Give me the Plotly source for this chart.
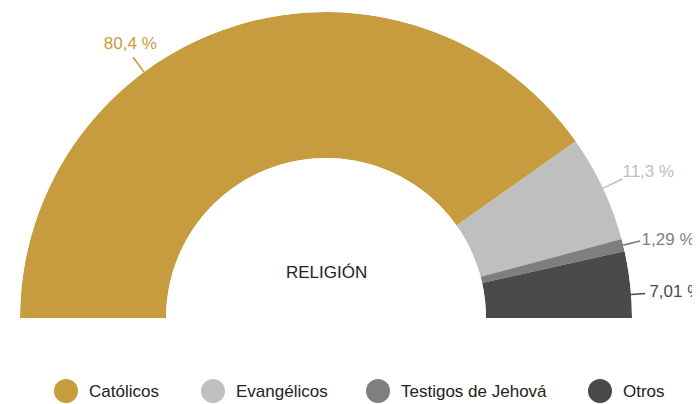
import numpy as np
import plotly.graph_objects as go

# datos
categorias = ["Católicos", "Evangélicos", "Testigos de Jehová", "Otros"]
porcentajes = [80.4, 11.3, 1.29, 7.01]
etiquetas = ["80,4 %", "11,3 %", "1,29 %", "7,01 %"]
titulo = "RELIGIÓN"

colores = ["#C79C3F", "#BEC0BF", "#7F7F7F", "#4A4A4C"]
fuente = "Liberation Sans, Arial, Helvetica, sans-serif"

# el body de la pagina tiene 8px de margen -> figura algo mas chica
W, H = 692, 396
cx, cy, R = 318, 310, 306      # centro y radio del semicirculo (px de la figura)
hueco = 160 / R

# semicirculo: 180 grados repartidos segun el porcentaje, de izquierda a derecha
vals = np.array(porcentajes)
frac = vals / vals.sum()
antes = np.concatenate([[0], np.cumsum(frac)[:-1]])
anchos = 180 * frac
centros = 180 - 180 * (antes + frac / 2)

# angulo de cada etiqueta (como en el original, la primera y la ultima algo corridas)
ang_etiq = centros.copy()
ang_etiq[0] = 126.5
ang_etiq[3] = 4.4
r_fin = [1.06, 1.07, 1.057, 1.046]
r_txt = [1.075, 1.07, 1.062, 1.06]
pos_texto = ["top center", "middle right", "middle right", "middle right"]
dy_txt = [0, 0.02, 0, 0]

fig = go.Figure()

for i in range(len(categorias)):
    fig.add_trace(go.Barpolar(r=[1], theta=[centros[i]], width=[anchos[i]], base=0,
                              marker=dict(color=colores[i], line=dict(width=0)),
                              name=categorias[i], showlegend=False, hoverinfo="name"))

# lineas y textos de las etiquetas en ejes cartesianos superpuestos (1 unidad = radio)
for i in range(len(categorias)):
    a = np.radians(ang_etiq[i])
    fig.add_trace(go.Scatter(x=[np.cos(a), r_fin[i] * np.cos(a)],
                             y=[np.sin(a), r_fin[i] * np.sin(a)],
                             mode="lines", line=dict(color=colores[i], width=1.6),
                             cliponaxis=False, showlegend=False, hoverinfo="skip"))
    fig.add_trace(go.Scatter(x=[r_txt[i] * np.cos(a)], y=[r_txt[i] * np.sin(a) + dy_txt[i]],
                             mode="text", text=[etiquetas[i]], textposition=pos_texto[i],
                             textfont=dict(family=fuente, size=17, color=colores[i]),
                             cliponaxis=False, showlegend=False, hoverinfo="skip"))

fig.update_layout(
    width=W, height=H,
    margin=dict(l=0, r=0, t=0, b=0),
    paper_bgcolor="white",
    plot_bgcolor="rgba(0,0,0,0)",
    showlegend=False,
    font=dict(family=fuente, color="#333333"),
    polar=dict(
        domain=dict(x=[(cx - R) / W, (cx + R) / W], y=[(H - cy) / H, (H - cy + R) / H]),
        sector=[0, 180],
        hole=hueco,
        bgcolor="white",
        radialaxis=dict(visible=False, range=[0, 1]),
        angularaxis=dict(visible=False, direction="counterclockwise", rotation=0),
    ),
    xaxis=dict(visible=False, range=[-cx / R, (W - cx) / R], domain=[0, 1], fixedrange=True),
    yaxis=dict(visible=False, range=[-(H - cy) / R, cy / R], domain=[0, 1], fixedrange=True),
)

fig.add_annotation(x=0, y=(cy - 264) / R, xref="x", yref="y",
                   text=titulo, showarrow=False, xanchor="center", yanchor="middle",
                   font=dict(family=fuente, size=17, color="#222222"))

# leyenda inferior con circulos
ley_x = [58, 205, 370, 592]
ley_y = 383
d = 24
for i, cat in enumerate(categorias):
    fig.add_shape(type="circle", xref="paper", yref="paper",
                  x0=(ley_x[i] - d / 2) / W, x1=(ley_x[i] + d / 2) / W,
                  y0=1 - (ley_y + d / 2) / H, y1=1 - (ley_y - d / 2) / H,
                  fillcolor=colores[i], line=dict(width=0))
    fig.add_annotation(x=(ley_x[i] + 21) / W, y=1 - ley_y / H, xref="paper", yref="paper",
                       text=cat, showarrow=False, xanchor="left", yanchor="middle",
                       font=dict(family=fuente, size=17, color="#222222"))

fig.write_html("out.html")
